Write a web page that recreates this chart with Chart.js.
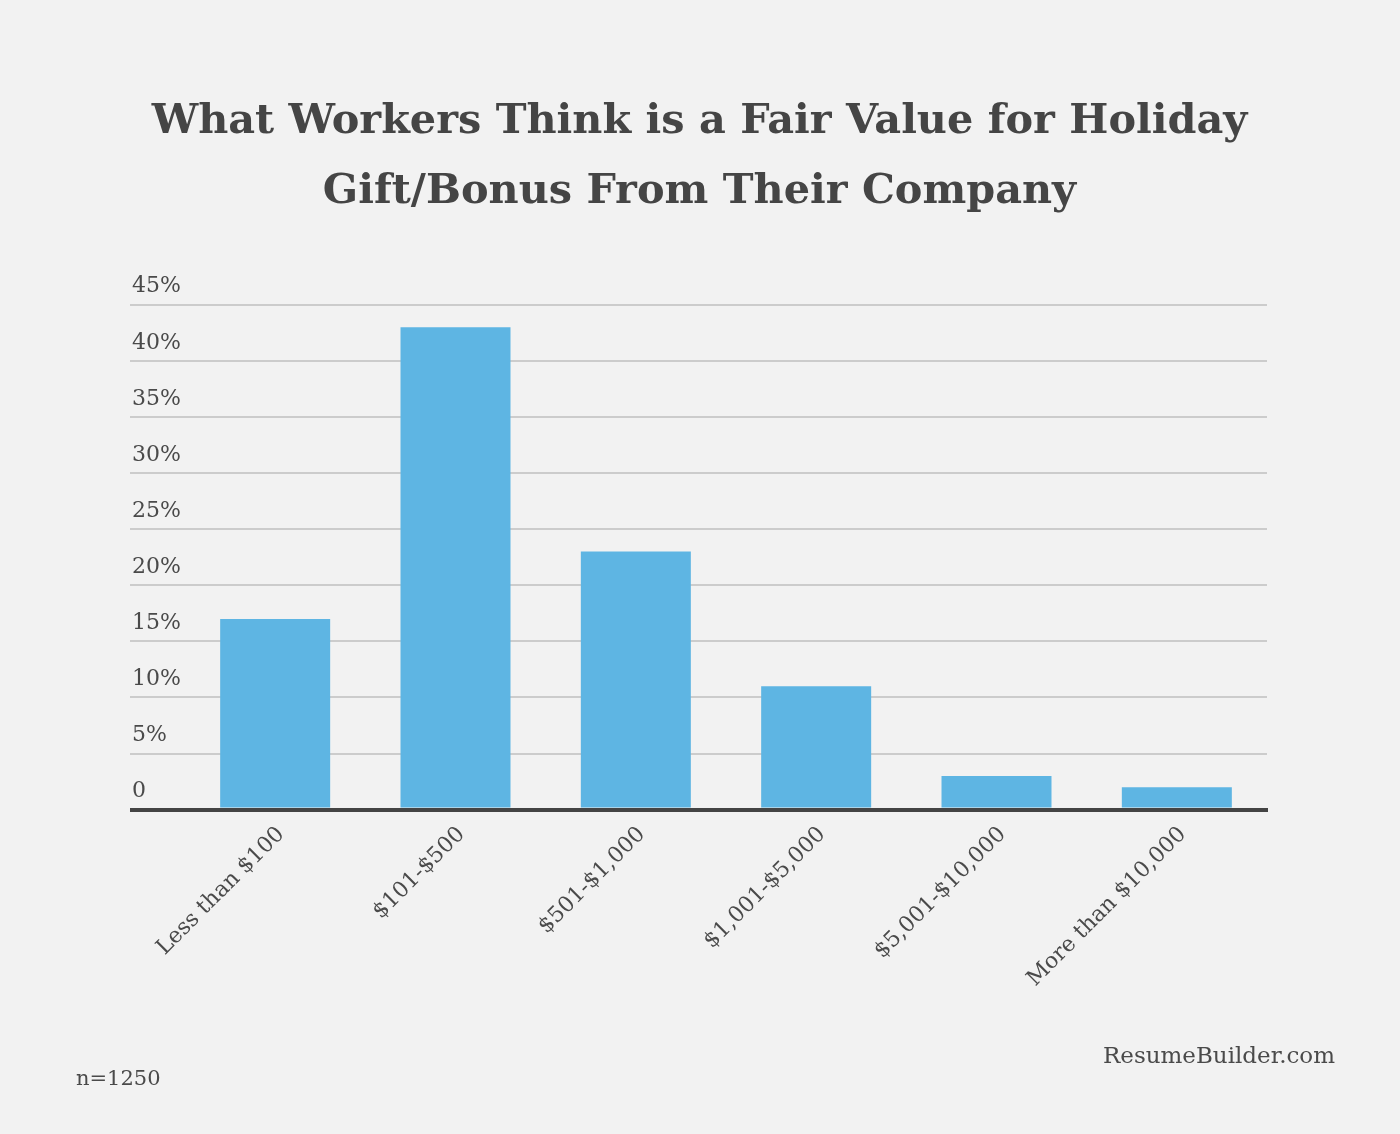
<!DOCTYPE html>
<html>
<head>
<meta charset="utf-8">
<script src="https://cdn.jsdelivr.net/npm/chart.js@4.4.0/dist/chart.umd.min.js"></script>
<style>
  html, body { margin: 0; padding: 0; background: #f2f2f2; }
  #wrap { width: 1400px; height: 1134px; position: relative; }
</style>
</head>
<body>
<div id="wrap"><canvas id="chart"></canvas></div>
<script>
// Data
const titleLines = ['What Workers Think is a Fair Value for Holiday', 'Gift/Bonus From Their Company'];
const categories = ['Less than $100', '$101-$500', '$501-$1,000', '$1,001-$5,000', '$5,001-$10,000', 'More than $10,000'];
const shares = [17, 43, 23, 11, 3, 2];
const yMax = 45;
const yStep = 5;
const sampleNote = 'n=1250';
const sourceNote = 'ResumeBuilder.com';

const serif = "'DejaVu Serif', 'Liberation Serif', serif";
const textColor = '#4a4a4a';

// footer notes drawn on the canvas
const footerNotes = {
  id: 'footerNotes',
  afterDraw(chart) {
    const ctx = chart.ctx;
    ctx.save();
    ctx.fillStyle = textColor;
    ctx.textBaseline = 'alphabetic';
    ctx.textAlign = 'left';
    ctx.font = `21px ${serif}`;
    ctx.fillText(sampleNote, 76, 1085);
    ctx.textAlign = 'right';
    ctx.font = `23px ${serif}`;
    ctx.fillText(sourceNote, 1335, 1063);
    ctx.restore();
  }
};

const gridColor = ctx => ctx.tick && ctx.tick.value === 0 ? '#444444' : '#cccccc';
const gridWidth = ctx => ctx.tick && ctx.tick.value === 0 ? 4 : 2;

new Chart(document.getElementById('chart'), {
  type: 'bar',
  data: {
    labels: categories,
    datasets: [{
      data: shares,
      backgroundColor: '#5eb5e3',
      borderWidth: 0,
      barPercentage: 0.61,
      categoryPercentage: 1
    }]
  },
  options: {
    responsive: true,
    maintainAspectRatio: false,
    animation: false,
    layout: { padding: { left: 132, right: 133, top: 0, bottom: 130 } },
    plugins: {
      legend: { display: false },
      tooltip: { enabled: false },
      title: {
        display: true,
        text: titleLines,
        color: '#454545',
        font: { family: serif, size: 41.4, weight: 'bold', lineHeight: 1.7 },
        padding: { top: 87, bottom: 77 }
      }
    },
    scales: {
      x: {
        z: 1,
        grid: { display: false, drawTicks: false },
        border: { display: true, color: '#444444', width: 4 },
        ticks: {
          color: textColor,
          font: { family: serif, size: 22 },
          minRotation: 45,
          maxRotation: 45,
          padding: 12,
          labelOffset: 6
        }
      },
      y: {
        min: 0,
        max: yMax,
        afterFit: scale => { scale.width = 53; },
        border: { display: false },
        grid: { color: gridColor, lineWidth: gridWidth, tickColor: gridColor, tickLength: 55, drawTicks: true },
        ticks: {
          stepSize: yStep,
          crossAlign: 'far',
          padding: 0,
          labelOffset: -18,
          color: textColor,
          font: { family: serif, size: 22 },
          callback: v => v === 0 ? '0' : v + '%'
        }
      }
    }
  },
  plugins: [footerNotes]
});
</script>
</body>
</html>
